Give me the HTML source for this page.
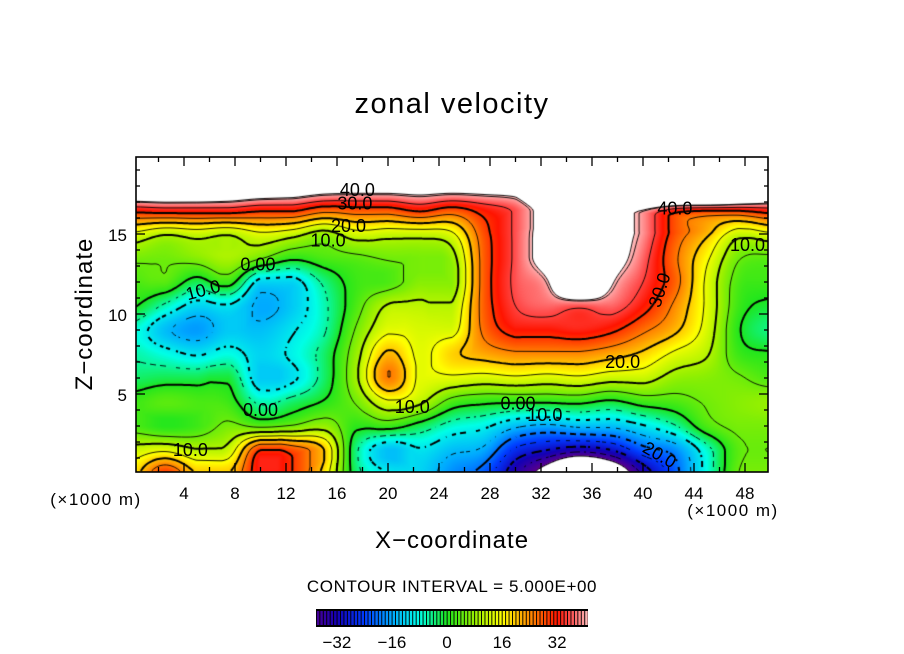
<!DOCTYPE html>
<html><head><meta charset="utf-8">
<style>
html,body{margin:0;padding:0;background:#fff;}
#wrap{position:relative;width:904px;height:654px;overflow:hidden;background:#fff;font-family:"Liberation Sans",sans-serif;}
canvas{position:absolute;left:136px;top:157px;}
svg{position:absolute;left:0;top:0;}
</style></head>
<body>
<div id="wrap">
<canvas id="fill" width="632" height="315"></canvas>
<canvas id="lines" width="632" height="315"></canvas>
<svg id="ov" width="904" height="654">
  <text x="452" y="113" font-size="29" letter-spacing="1.5" text-anchor="middle">zonal velocity</text>
  <text transform="translate(92,314) rotate(-90)" font-size="24" letter-spacing="1" text-anchor="middle">Z−coordinate</text>
  <text x="452" y="548" font-size="24" letter-spacing="1" text-anchor="middle">X−coordinate</text>
  <text x="96" y="505" font-size="17" letter-spacing="1.5" text-anchor="middle">(×1000 m)</text>
  <text x="733" y="516" font-size="17" letter-spacing="1.5" text-anchor="middle">(×1000 m)</text>
  <text x="452" y="592" font-size="17" letter-spacing="0.6" text-anchor="middle">CONTOUR INTERVAL = 5.000E+00</text>
  <g id="axes"></g>
  <g id="clabels" font-size="18" text-anchor="middle"></g>
  <g id="cbar"></g>
</svg>
</div>
<script>
// ---- data ----
const xPositions = [0,2.5,5,7.5,10,12.5,15,17.5,20,22.5,25,27.5,30,32.5,35,37.5,40,42.5,45,47.5,50];
const zLevels = [0,1.5,3,4.5,6,7.5,9,10.5,12,13.5,15,16.5,18];
const u_z00 = [18,30,20,20,33,30,18,-3,-10,-12,-18,-22,-34,-45,-60,-50,-34,-22,-8,5,6];
const u_z01 = [12,14,10.5,12,30,28,20,-4,-14,-10.5,-14,-16,-26,-30,-33,-30,-22,-18,-7,4,5];
const u_z02 = [3,0.5,2,6,4,5.5,8,1,2,-2,-7,-9,-14,-16,-14,-14,-10.5,-5.5,3,6,6];
const u_z03 = [2,4,3,2,-6,-3,0.5,5.5,14,11,3,1,0.5,0.5,1,-1,2,3,5.5,7,8];
const u_z04 = [-3,-2,-2,-1,-13,-11,-3,9,25,14,14,13,14,13,14,12,12,8,7,5.5,3];
const u_z05 = [-5.5,-8,-10.5,-8,-12,-9,-3,8,21,14,19,22,24,24,24,22,19,14,10.5,2,0.5];
const u_z06 = [-7,-14,-17,-13,-14,-10.5,-5.5,5.5,14,13,13,26,32,32,33,31,26,21,13,0.5,-4];
const u_z07 = [0.5,-6,-12,-10.5,-16,-13,-6,3,10.5,11,10.5,27,35,37,36,37,32,24,14,2,-1];
const u_z08 = [3,4,-2,2,-12,-12,-4,2,3,7,7,27,36,40.5,60,42,35,27,14,3,2];
const u_z09 = [6,5.5,7,9.5,5.5,1,3,4,5.5,6,8,27,36,46,60,46,37,26,16,5.5,4];
const u_z10 = [14,10.5,12,10.5,14,12,8,13,12,12,14,28,36,46,60,46,39,28,21,12,14];
const u_z11 = [32,33,33,33,31,31,27,28,28,31,28,32,36,46,60,46,41,33,31,31,33];
const u_z12 = [55,55,55,52,50,48,46,45,45,45,45,45,45,60,60,60,80,90,90,75,60];
const contourLevels = [-40,-35,-30,-25,-20,-15,-10,-5,0,5,10,15,20,25,30,35,40,41];
const xTicks = [4,8,12,16,20,24,28,32,36,40,44,48];
const zTicks = [5,10,15];
const cbarTicks = [-32,-16,0,16,32];
const labelTexts = ["40.0","30.0","20.0","10.0","0.00","10.0","0.00","10.0","10.0","0.00","10.0","20.0","30.0","40.0","10.0","20.0"];
const labelX = [17.6,17.4,16.9,15.3,9.8,5.5,10.0,4.5,21.9,30.2,32.3,38.4,41.3,42.5,48.2,41.3];
const labelZ = [17.75,16.9,15.5,14.6,13.1,11.5,4.0,1.5,4.2,4.4,3.7,7.0,11.5,16.6,14.3,1.2];
const labelRot = [0,0,0,0,0,-15,0,0,0,0,0,0,-72,0,0,30];

const rows = [u_z00,u_z01,u_z02,u_z03,u_z04,u_z05,u_z06,u_z07,u_z08,u_z09,u_z10,u_z11,u_z12];
const X0 = 133, SX = 12.75, Z0 = 474, SZ = 16;
function xScale(x){return X0 + SX*x;}
function zScale(z){return Z0 - SZ*z;}
function cr(p0,p1,p2,p3,t){ // Catmull-Rom
  return p1 + 0.5*t*(p2-p0 + t*(2*p0-5*p1+4*p2-p3 + t*(3*(p1-p2)+p3-p0)));
}
function clampR(v,a,b){return Math.max(Math.min(a,b),Math.min(Math.max(a,b),v));}
function gv(i,j){ i=Math.max(0,Math.min(xPositions.length-1,i)); j=Math.max(0,Math.min(zLevels.length-1,j)); return rows[j][i]; }
function field(x,z){
  const dx = xPositions[1]-xPositions[0], dz = zLevels[1]-zLevels[0];
  let fi = (x - xPositions[0])/dx, fj = (z - zLevels[0])/dz;
  fi = Math.max(0, Math.min(xPositions.length-1.0001, fi));
  fj = Math.max(0, Math.min(zLevels.length-1.0001, fj));
  const i = Math.floor(fi), j = Math.floor(fj), a = fi-i, b = fj-j;
  const col=[];
  for (let m=-1;m<=2;m++) col.push(clampR(cr(gv(i-1,j+m),gv(i,j+m),gv(i+1,j+m),gv(i+2,j+m),a), gv(i,j+m), gv(i+1,j+m)));
  return clampR(cr(col[0],col[1],col[2],col[3],b), col[1], col[2]);
}
const stops = [[-40,90,0,140],[-32,20,0,180],[-24,0,60,255],[-16,0,170,255],[-8,0,255,230],[0,30,230,30],[8,150,240,0],[16,255,255,0],[24,255,140,0],[32,255,20,0],[36,255,80,80],[41,255,190,190]];
function color(v){
  if (v > 41 || v < -40) return [255,255,255];
  for (let k=0;k<stops.length-1;k++){
    const s0=stops[k], s1=stops[k+1];
    if (v <= s1[0]){ const t=(v-s0[0])/(s1[0]-s0[0]);
      return [s0[1]+(s1[1]-s0[1])*t, s0[2]+(s1[2]-s0[2])*t, s0[3]+(s1[3]-s0[3])*t]; }
  }
  return [255,190,190];
}
// ---- fill ----
const W=632,H=315,L=136,T=157;
const fc = document.getElementById('fill').getContext('2d');
const img = fc.createImageData(W,H);
for (let py=0;py<H;py++){ const z=(Z0-(py+T+0.5))/SZ;
  for (let px=0;px<W;px++){ const x=((px+L+0.5)-X0)/SX;
    const c=color(field(x,z)); const o=(py*W+px)*4;
    img.data[o]=c[0]; img.data[o+1]=c[1]; img.data[o+2]=c[2]; img.data[o+3]=255; } }
fc.putImageData(img,0,0);
// ---- contours (marching squares) ----
const lc = document.getElementById('lines').getContext('2d');
const st=2, nx=Math.floor(W/st)+1, ny=Math.floor(H/st)+1;
const grid=[];
for (let j=0;j<ny;j++){ const r=[]; const z=(Z0-(j*st+T))/SZ;
  for (let i=0;i<nx;i++){ r.push(field(((i*st+L)-X0)/SX, z)); } grid.push(r); }
contourLevels.forEach(function(lev){
  const thick = (lev%10===0 && lev!==-40 && lev!==40);
  lc.beginPath();
  lc.lineWidth = thick ? 2 : 0.9;
  lc.strokeStyle = '#000';
  for (let j=0;j<ny-1;j++) for (let i=0;i<nx-1;i++){
    const v=[grid[j][i],grid[j][i+1],grid[j+1][i+1],grid[j+1][i]];
    const p=[[i*st,j*st],[(i+1)*st,j*st],[(i+1)*st,(j+1)*st],[i*st,(j+1)*st]];
    const pts=[];
    for (let e=0;e<4;e++){ const a=v[e], b=v[(e+1)%4];
      if ((a<lev)!==(b<lev)){ const t=(lev-a)/(b-a); const pa=p[e], pb=p[(e+1)%4];
        pts.push([pa[0]+(pb[0]-pa[0])*t, pa[1]+(pb[1]-pa[1])*t]); } }
    for (let k=0;k+1<pts.length;k+=2){
      const mx=(pts[k][0]+pts[k+1][0])/2, my=(pts[k][1]+pts[k+1][1])/2;
      if (lev<0 && lev!==-40 && ((Math.floor(mx/5)+Math.floor(my/5))%2)!==0) continue;
      lc.moveTo(pts[k][0],pts[k][1]); lc.lineTo(pts[k+1][0],pts[k+1][1]); }
  }
  lc.stroke();
});
// ---- axes ----
const NS='http://www.w3.org/2000/svg';
const ax=document.getElementById('axes');
function mk(tag,attrs,parent){const e=document.createElementNS(NS,tag);for(const k in attrs)e.setAttribute(k,attrs[k]);parent.appendChild(e);return e;}
const frame=mk('rect',{x:136,y:157,width:632,height:315,fill:'none',stroke:'#000','stroke-width':1.6},ax);


for (let x=2;x<50;x+=2){ const px=xScale(x), len=(x%4===0)?9:5;
  const t1=mk('line',{x1:px,y1:472,x2:px,y2:472-len,stroke:'#000','stroke-width':1.3},ax);
  
  
  const t2=mk('line',{x1:px,y1:157,x2:px,y2:157+len,stroke:'#000','stroke-width':1.3},ax);
  
   }
for (let z=1;z<20;z++){ const py=zScale(z), len=(z%5===0)?9:4;
  const t1=mk('line',{x1:136,y1:py,x2:136+len,y2:py,stroke:'#000','stroke-width':1.3},ax);
  
  
  const t2=mk('line',{x1:768,y1:py,x2:768-len,y2:py,stroke:'#000','stroke-width':1.3},ax);
  
   }
xTicks.forEach(function(x){ const t=mk('text',{x:xScale(x),y:499,'font-size':17,'text-anchor':'middle'},ax); t.textContent=String(x);
  
   });
zTicks.forEach(function(z){ const t=mk('text',{x:127,y:zScale(z)+7,'font-size':17,'text-anchor':'end'},ax); t.textContent=String(z);
  
   });
// ---- contour labels ----
const cl=document.getElementById('clabels');
labelTexts.forEach(function(s,k){ const px=xScale(labelX[k]), py=zScale(labelZ[k]);
  const t=mk('text',{x:px,y:py+6,transform:'rotate('+labelRot[k]+' '+px+' '+py+')'},cl); t.textContent=s;
  
   });
// ---- colorbar ----
const cb=document.getElementById('cbar');
function cbX(v){return 447+3.44*v;}
const bg=mk('rect',{x:316,y:609,width:272,height:18,fill:'#000'},cb);


for (let v=-38; v<41; v++){ const c=color(v+0.5);
  const r=mk('rect',{x:cbX(v)+0.6,y:611,width:2.5,height:14,fill:'rgb('+c.map(Math.round).join(',')+')'},cb);
  
   }
cbarTicks.forEach(function(v){ const t=mk('text',{x:cbX(v),y:648,'font-size':17,'text-anchor':'middle'},cb); t.textContent=(v<0?'−':'')+Math.abs(v);
  
   });
</script>
</body></html>
